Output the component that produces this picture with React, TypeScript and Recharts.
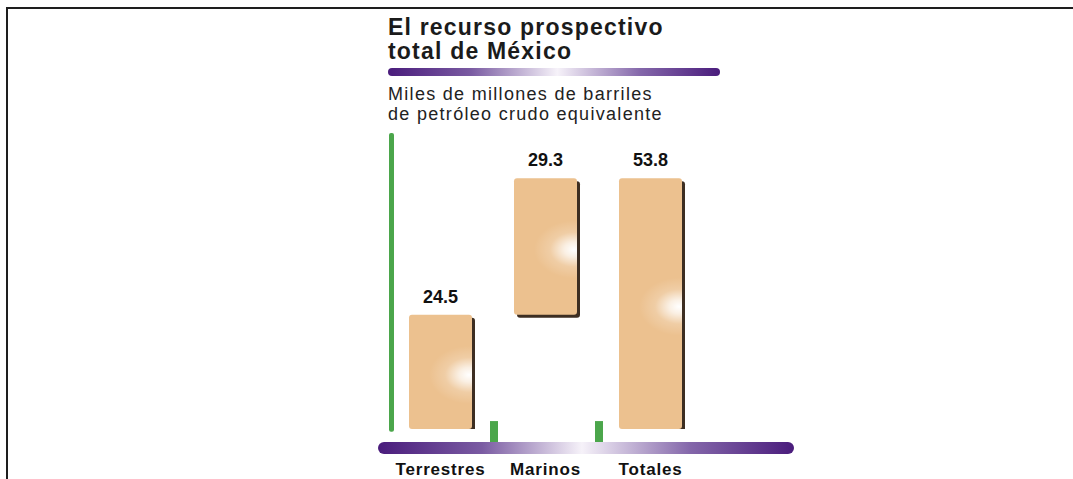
import { Bar, BarChart, LabelList, ReferenceLine, XAxis, YAxis } from "recharts";

const categories = ["Terrestres", "Marinos", "Totales"];
const starts = [0, 24.5, 0];
const values = [24.5, 29.3, 53.8];

const data = categories.map((name, i) => ({ name, start: starts[i], value: values[i] }));

const FONT = '"Liberation Sans", Arial, Helvetica, sans-serif';
const GREEN = "#4ba64b";

// tan block with dark drop shadow and a white glow at the right edge
const BarShape = (props: any) => {
  const { x, y, width, height, index } = props;
  if (!height || height <= 0) return null;
  const gx = x + width - 3;
  const gy = y + height / 2 + 3;
  const id = `glow-${index}`;
  return (
    <g>
      <defs>
        <radialGradient
          id={id}
          gradientUnits="userSpaceOnUse"
          cx={0}
          cy={0}
          r={1}
          gradientTransform={`translate(${gx} ${gy}) scale(40 29)`}
        >
          <stop offset="0%" stopColor="#ffffff" stopOpacity={1} />
          <stop offset="25%" stopColor="#ffffff" stopOpacity={0.75} />
          <stop offset="60%" stopColor="#ffffff" stopOpacity={0.2} />
          <stop offset="100%" stopColor="#ffffff" stopOpacity={0} />
        </radialGradient>
      </defs>
      <rect x={x + 3} y={y + 3} width={width} height={height} rx={3} fill="#3d2e22" />
      <rect x={x} y={y} width={width} height={height} rx={3} fill="#ecc18f" />
      <rect x={x} y={y} width={width} height={height} rx={3} fill={`url(#${id})`} />
    </g>
  );
};

const Stem = (props: any) => {
  const { x1, y1, y2 } = props;
  return <rect x={x1 + 1} y={Math.min(y1, y2)} width={5} height={Math.abs(y2 - y1)} rx={2} fill={GREEN} />;
};

const Notch = (props: any) => {
  const { x1, y1, y2 } = props;
  return <rect x={x1 - 3} y={Math.min(y1, y2)} width={8} height={Math.abs(y2 - y1)} fill={GREEN} />;
};

export default function App() {
  return (
    <div
      style={{
        position: "absolute",
        left: 0,
        top: 0,
        width: 1073,
        height: 479,
        background: "#fff",
        overflow: "hidden",
        fontFamily: FONT,
      }}
    >
      <div style={{ position: "absolute", left: 6, top: 7, width: 1067, height: 2, background: "#1e1e1e" }} />
      <div style={{ position: "absolute", left: 6, top: 7, width: 2, height: 472, background: "#1e1e1e" }} />

      <div style={{ position: "absolute", left: 0, top: 0 }}>
        <BarChart
          width={1073}
          height={479}
          data={data}
          margin={{ top: 133, right: 285, left: 384, bottom: 1 }}
          barSize={63}
        >
          <defs>
            <linearGradient id="axisGrad" gradientUnits="userSpaceOnUse" x1={378} y1={0} x2={794} y2={0}>
              <stop offset="0%" stopColor="#4a1c7c" />
              <stop offset="25%" stopColor="#7a5ba2" />
              <stop offset="49%" stopColor="#f6f2f9" />
              <stop offset="75%" stopColor="#8467aa" />
              <stop offset="100%" stopColor="#4a1c7c" />
            </linearGradient>
          </defs>
          <XAxis
            dataKey="name"
            height={30}
            interval={0}
            padding={{ left: 4, right: 85 }}
            axisLine={{ stroke: "url(#axisGrad)", strokeWidth: 12, strokeLinecap: "round" }}
            tickLine={false}
            tickSize={0}
            tickMargin={15}
            tick={{ fill: "#111", fontSize: 17, fontWeight: 700, fontFamily: FONT, letterSpacing: 0.8 }}
          />
          <YAxis hide type="number" domain={[0, 63.5]} allowDataOverflow padding={{ bottom: 19 }} />
          <ReferenceLine
            segment={[
              { x: "Terrestres", y: -0.6 },
              { x: "Terrestres", y: 63.5 },
            ]}
            position="start"
            ifOverflow="visible"
            shape={<Stem />}
          />
          <ReferenceLine
            segment={[
              { x: "Marinos", y: -3 },
              { x: "Marinos", y: 1.7 },
            ]}
            position="start"
            ifOverflow="visible"
            shape={<Notch />}
          />
          <ReferenceLine
            segment={[
              { x: "Totales", y: -3 },
              { x: "Totales", y: 1.7 },
            ]}
            position="start"
            ifOverflow="visible"
            shape={<Notch />}
          />
          <Bar dataKey="start" stackId="w" fill="transparent" isAnimationActive={false} />
          <Bar dataKey="value" stackId="w" shape={<BarShape />} isAnimationActive={false}>
            <LabelList
              dataKey="value"
              position="top"
              offset={12}
              fill="#111"
              fontSize={18}
              fontWeight={700}
              fontFamily={FONT}
            />
          </Bar>
        </BarChart>
      </div>

      <div
        style={{
          position: "absolute",
          left: 388,
          top: 15,
          fontSize: 23,
          lineHeight: "24px",
          fontWeight: 700,
          letterSpacing: 1.2,
          color: "#1b1b1b",
          whiteSpace: "nowrap",
        }}
      >
        El recurso prospectivo
        <br />
        total de México
      </div>
      <div
        style={{
          position: "absolute",
          left: 388,
          top: 68,
          width: 332,
          height: 8,
          borderRadius: 4,
          background: "linear-gradient(to right, #4a1c7c 0%, #7a5ba2 25%, #f6f2f9 51%, #8467aa 76%, #4a1c7c 100%)",
        }}
      />
      <div
        style={{
          position: "absolute",
          left: 388,
          top: 84,
          fontSize: 18,
          lineHeight: "20px",
          letterSpacing: 1.3,
          color: "#222",
          whiteSpace: "nowrap",
        }}
      >
        Miles de millones de barriles
        <br />
        de petróleo crudo equivalente
      </div>
    </div>
  );
}
